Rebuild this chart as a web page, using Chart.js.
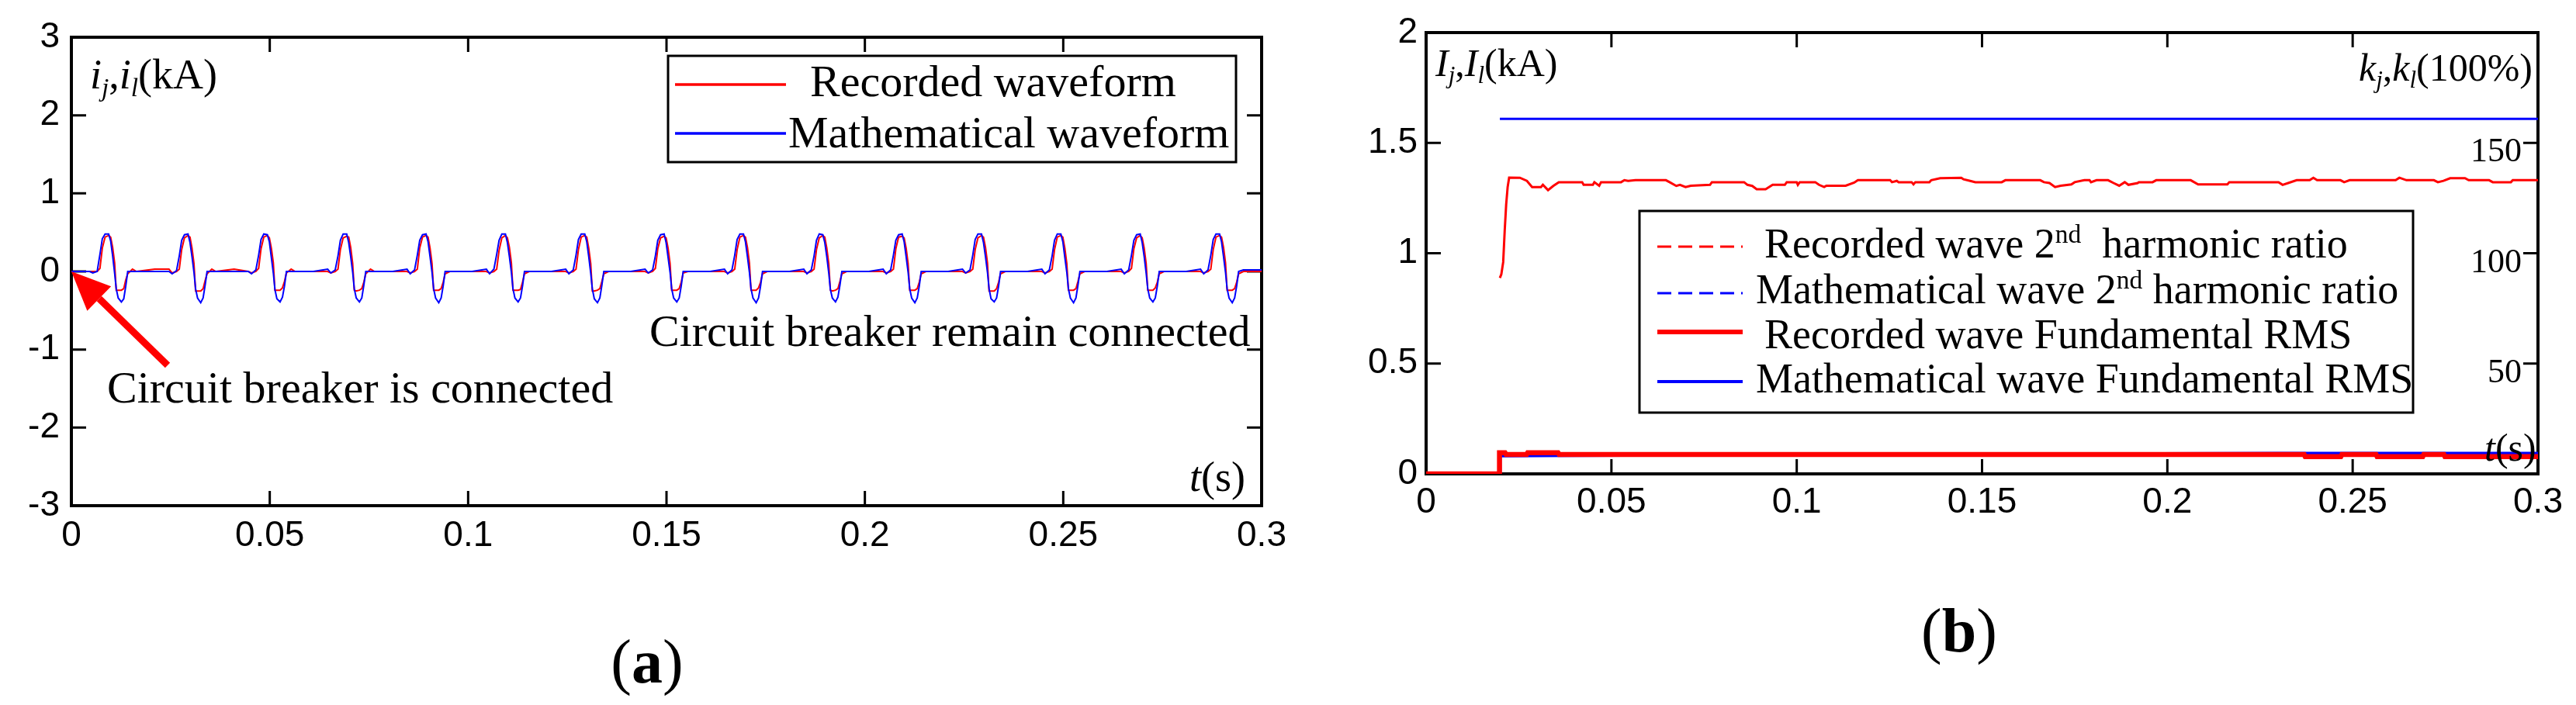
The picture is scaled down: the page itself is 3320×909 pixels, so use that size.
<!DOCTYPE html>
<html>
<head>
<meta charset="utf-8">
<script src="https://cdn.jsdelivr.net/npm/chart.js@4.4.1/dist/chart.umd.min.js"></script>
<style>
  html, body { margin: 0; padding: 0; background: #fff; }
  #wrap { position: relative; width: 3320px; height: 909px; overflow: hidden; }
  canvas { position: absolute; top: 0; }
  #chartA { left: 0; width: 1700px; height: 909px; }
  #chartB { left: 1700px; width: 1620px; height: 909px; }
</style>
</head>
<body>
<div id="wrap">
  <canvas id="chartA" width="1700" height="909"></canvas>
  <canvas id="chartB" width="1620" height="909"></canvas>
</div>
<script>
// ---- axis ticks ----
const tickValuesX = [0, 0.05, 0.1, 0.15, 0.2, 0.25, 0.3];
const tickLabelsX = ['0', '0.05', '0.1', '0.15', '0.2', '0.25', '0.3'];
const tickValuesYA = [-3, -2, -1, 0, 1, 2, 3];
const tickLabelsYA = ['-3', '-2', '-1', '0', '1', '2', '3'];
const tickValuesYB = [0, 0.5, 1, 1.5, 2];
const tickLabelsYB = ['0', '0.5', '1', '1.5', '2'];
const tickValuesK = [50, 100, 150];
const tickLabelsK = ['50', '100', '150'];

// ---- panel (a): inrush current, time in ms, current in kA ----
const timeMsA = [
  0, 1.0, 4.6, 5.4, 6.5, 7.2, 7.8, 8.5, 9.4, 9.9, 10.4, 10.9, 11.3, 11.8, 12.6, 13.2, 13.7, 14.2, 15.4, 16.4,
  21.0, 24.6, 25.4, 26.5, 27.2, 27.8, 28.5, 29.4, 29.9, 30.4, 30.9, 31.3, 31.8, 32.6, 33.2, 33.7, 34.2, 35.4, 36.4,
  41.0, 44.6, 45.4, 46.5, 47.2, 47.8, 48.5, 49.4, 49.9, 50.4, 50.9, 51.3, 51.8, 52.6, 53.2, 53.7, 54.2, 55.4, 56.4,
  61.0, 64.6, 65.4, 66.5, 67.2, 67.8, 68.5, 69.4, 69.9, 70.4, 70.9, 71.3, 71.8, 72.6, 73.2, 73.7, 74.2, 75.4, 76.4,
  81.0, 84.6, 85.4, 86.5, 87.2, 87.8, 88.5, 89.4, 89.9, 90.4, 90.9, 91.3, 91.8, 92.6, 93.2, 93.7, 94.2, 95.4, 96.4,
  101.0, 104.6, 105.4, 106.5, 107.2, 107.8, 108.5, 109.4, 109.9, 110.4, 110.9, 111.3, 111.8, 112.6, 113.2, 113.7, 114.2, 115.4, 116.4,
  121.0, 124.6, 125.4, 126.5, 127.2, 127.8, 128.5, 129.4, 129.9, 130.4, 130.9, 131.3, 131.8, 132.6, 133.2, 133.7, 134.2, 135.4, 136.4,
  141.0, 144.6, 145.4, 146.5, 147.2, 147.8, 148.5, 149.4, 149.9, 150.4, 150.9, 151.3, 151.8, 152.6, 153.2, 153.7, 154.2, 155.4, 156.4,
  161.0, 164.6, 165.4, 166.5, 167.2, 167.8, 168.5, 169.4, 169.9, 170.4, 170.9, 171.3, 171.8, 172.6, 173.2, 173.7, 174.2, 175.4, 176.4,
  181.0, 184.6, 185.4, 186.5, 187.2, 187.8, 188.5, 189.4, 189.9, 190.4, 190.9, 191.3, 191.8, 192.6, 193.2, 193.7, 194.2, 195.4, 196.4,
  201.0, 204.6, 205.4, 206.5, 207.2, 207.8, 208.5, 209.4, 209.9, 210.4, 210.9, 211.3, 211.8, 212.6, 213.2, 213.7, 214.2, 215.4, 216.4,
  221.0, 224.6, 225.4, 226.5, 227.2, 227.8, 228.5, 229.4, 229.9, 230.4, 230.9, 231.3, 231.8, 232.6, 233.2, 233.7, 234.2, 235.4, 236.4,
  241.0, 244.6, 245.4, 246.5, 247.2, 247.8, 248.5, 249.4, 249.9, 250.4, 250.9, 251.3, 251.8, 252.6, 253.2, 253.7, 254.2, 255.4, 256.4,
  261.0, 264.6, 265.4, 266.5, 267.2, 267.8, 268.5, 269.4, 269.9, 270.4, 270.9, 271.3, 271.8, 272.6, 273.2, 273.7, 274.2, 275.4, 276.4,
  281.0, 284.6, 285.4, 286.5, 287.2, 287.8, 288.5, 289.4, 289.9, 290.4, 290.9, 291.3, 291.8, 292.6, 293.2, 293.7, 294.2, 295.4, 296.4, 300.0
];
const recordedA = [
  0, 0, 0, 0, 0, 0.04, 0.30, 0.44, 0.46, 0.44, 0.31, 0.11, -0.24, -0.24, -0.24, -0.22, -0.11, -0.03, 0.03, 0,
  0.03, 0.03, -0.02, 0, 0.03, 0.28, 0.43, 0.46, 0.44, 0.30, 0.10, -0.25, -0.25, -0.25, -0.22, -0.12, -0.03, 0.03, 0,
  0.03, 0, -0.02, 0, 0.04, 0.29, 0.44, 0.46, 0.43, 0.30, 0.11, -0.24, -0.24, -0.24, -0.21, -0.13, -0.02, 0.03, 0,
  0, 0, -0.02, 0, 0.03, 0.28, 0.43, 0.45, 0.44, 0.31, 0.10, -0.24, -0.25, -0.24, -0.22, -0.14, -0.03, 0.03, 0,
  0, 0, -0.02, 0, 0.03, 0.30, 0.44, 0.46, 0.44, 0.30, 0.10, -0.24, -0.24, -0.24, -0.22, -0.14, -0.03, 0, 0,
  0, 0, -0.02, 0, 0.03, 0.27, 0.43, 0.46, 0.43, 0.31, 0.11, -0.24, -0.24, -0.24, -0.23, -0.14, -0.03, 0, 0,
  0, 0, -0.02, 0, 0.03, 0.28, 0.44, 0.46, 0.44, 0.30, 0.10, -0.25, -0.25, -0.24, -0.22, -0.13, -0.03, 0, 0,
  0, 0, -0.02, 0, 0.04, 0.29, 0.43, 0.45, 0.43, 0.30, 0.10, -0.24, -0.24, -0.24, -0.22, -0.14, -0.02, 0, 0,
  0, 0, -0.02, 0, 0.03, 0.28, 0.44, 0.46, 0.44, 0.31, 0.11, -0.24, -0.24, -0.24, -0.21, -0.14, -0.03, 0, 0,
  0, 0, -0.02, 0, 0.03, 0.28, 0.43, 0.46, 0.44, 0.30, 0.10, -0.24, -0.25, -0.24, -0.22, -0.13, -0.03, 0, 0,
  0, 0, -0.02, 0, 0.03, 0.29, 0.44, 0.45, 0.43, 0.30, 0.10, -0.24, -0.24, -0.24, -0.22, -0.14, -0.03, 0, 0,
  0, 0, -0.02, 0, 0.03, 0.28, 0.43, 0.46, 0.44, 0.31, 0.11, -0.25, -0.25, -0.25, -0.22, -0.14, -0.03, 0, 0,
  0, 0, -0.02, 0, 0.03, 0.28, 0.44, 0.46, 0.44, 0.30, 0.10, -0.24, -0.24, -0.24, -0.22, -0.13, -0.03, 0, 0,
  0, 0, -0.02, 0, 0.04, 0.29, 0.43, 0.46, 0.43, 0.30, 0.10, -0.24, -0.24, -0.24, -0.21, -0.14, -0.03, 0, 0,
  0, 0, -0.02, 0, 0.03, 0.28, 0.44, 0.46, 0.44, 0.31, 0.11, -0.24, -0.24, -0.24, -0.22, -0.14, -0.03, 0, 0, 0
];
const mathA = [
  0, 0, 0, -0.02, 0, 0.22, 0.42, 0.48, 0.48, 0.39, 0.20, -0.02, -0.22, -0.34, -0.39, -0.35, -0.19, 0, 0, 0,
  0, 0, -0.03, 0.01, 0.20, 0.40, 0.47, 0.48, 0.37, 0.19, -0.01, -0.22, -0.34, -0.40, -0.34, -0.18, 0, 0, 0,
  0, 0, -0.03, 0.02, 0.21, 0.41, 0.48, 0.47, 0.38, 0.18, -0.02, -0.23, -0.35, -0.39, -0.33, -0.19, 0, 0, 0,
  0, 0.03, -0.02, 0.02, 0.20, 0.40, 0.48, 0.48, 0.37, 0.19, -0.01, -0.22, -0.34, -0.39, -0.34, -0.18, 0, 0, 0,
  0, 0.03, -0.03, 0.02, 0.21, 0.40, 0.47, 0.48, 0.38, 0.19, -0.01, -0.22, -0.34, -0.40, -0.34, -0.19, 0, 0, 0,
  0, 0.03, -0.03, 0.03, 0.22, 0.40, 0.48, 0.48, 0.37, 0.19, -0.01, -0.22, -0.34, -0.39, -0.34, -0.19, 0, 0, 0,
  0, 0.03, -0.03, 0.02, 0.21, 0.41, 0.48, 0.48, 0.38, 0.19, -0.02, -0.22, -0.35, -0.40, -0.34, -0.18, 0, 0, 0,
  0, 0.03, -0.02, 0.02, 0.20, 0.40, 0.47, 0.48, 0.37, 0.18, -0.01, -0.22, -0.34, -0.39, -0.34, -0.19, 0, 0, 0,
  0, 0.03, -0.03, 0.02, 0.21, 0.41, 0.48, 0.48, 0.38, 0.19, -0.01, -0.22, -0.34, -0.40, -0.34, -0.19, 0, 0, 0,
  0, 0.03, -0.03, 0.02, 0.20, 0.40, 0.48, 0.47, 0.37, 0.19, -0.02, -0.23, -0.34, -0.39, -0.33, -0.18, 0, 0, 0,
  0, 0.03, -0.03, 0.02, 0.21, 0.40, 0.47, 0.48, 0.38, 0.19, -0.01, -0.22, -0.34, -0.40, -0.34, -0.19, 0, 0, 0,
  0, 0.03, -0.02, 0.02, 0.21, 0.41, 0.48, 0.48, 0.37, 0.19, -0.01, -0.22, -0.35, -0.39, -0.34, -0.19, 0, 0, 0,
  0, 0.03, -0.03, 0.02, 0.20, 0.40, 0.48, 0.48, 0.38, 0.18, -0.01, -0.22, -0.34, -0.40, -0.34, -0.18, 0, 0, 0,
  0, 0.03, -0.03, 0.02, 0.21, 0.40, 0.47, 0.48, 0.37, 0.19, -0.02, -0.22, -0.34, -0.39, -0.34, -0.19, 0, 0, 0,
  0, 0.03, -0.03, 0.02, 0.21, 0.41, 0.48, 0.48, 0.38, 0.19, -0.01, -0.22, -0.34, -0.40, -0.34, -0.19, 0, 0.02, 0.02, 0.02
];

// ---- panel (b): 2nd harmonic ratio (%) and fundamental RMS (kA) ----
const ratioTime = [
  0.0199, 0.0203, 0.0208, 0.0212, 0.0216, 0.0220, 0.0224, 0.0253, 0.0272, 0.0286, 0.0310, 0.0315, 0.0329, 0.0343,
  0.0358, 0.0421, 0.0425, 0.0450, 0.0454, 0.0467, 0.0472, 0.0526, 0.0535, 0.0545, 0.0565, 0.0647, 0.0657, 0.0675,
  0.0685, 0.0700, 0.0714, 0.0766, 0.0771, 0.0858, 0.0867, 0.0880, 0.0892, 0.0916, 0.0935, 0.0968, 0.0973, 0.1000,
  0.1003, 0.1008, 0.1050, 0.1060, 0.1074, 0.1080, 0.1132, 0.1155, 0.1165, 0.1252, 0.1257, 0.1270, 0.1275, 0.1310,
  0.1315, 0.1320, 0.1358, 0.1363, 0.1387, 0.1444, 0.1450, 0.1468, 0.1482, 0.1553, 0.1563, 0.1657, 0.1667, 0.1682,
  0.1697, 0.1712, 0.1741, 0.1750, 0.1776, 0.1790, 0.1794, 0.1809, 0.1840, 0.1855, 0.1870, 0.1885, 0.1895, 0.1920,
  0.1923, 0.1960, 0.1970, 0.2063, 0.2083, 0.2162, 0.2167, 0.2300, 0.2311, 0.2326, 0.2349, 0.2384, 0.2394, 0.2404,
  0.2467, 0.2477, 0.2492, 0.2616, 0.2626, 0.2645, 0.2719, 0.2730, 0.2745, 0.2763, 0.2803, 0.2813, 0.2868, 0.2878,
  0.2927, 0.2932, 0.3000
];
const ratioRecorded = [
  88.8, 90.5, 96.0, 110.0, 122.0, 130.0, 134.3, 134.2, 132.8, 130.0, 130.0, 131.0, 128.6, 130.5,
  132.2, 132.2, 131.0, 131.0, 132.2, 130.6, 132.2, 132.2, 133.1, 132.8, 133.1, 133.1, 132.2, 130.5,
  131.0, 130.0, 130.6, 131.0, 132.2, 132.2, 131.0, 130.5, 129.0, 129.0, 131.0, 131.0, 132.2, 132.2,
  131.0, 132.2, 132.2, 131.0, 130.0, 130.6, 130.6, 132.0, 133.1, 133.1, 132.2, 132.8, 132.2, 132.2,
  131.2, 132.2, 132.2, 133.1, 134.0, 134.2, 133.5, 132.8, 132.2, 132.2, 133.1, 133.1, 132.2, 131.8,
  130.0, 130.6, 131.2, 132.2, 133.1, 133.1, 132.2, 133.1, 133.1, 131.8, 130.6, 132.2, 131.0, 131.8,
  132.2, 132.2, 133.1, 133.1, 131.2, 131.2, 132.2, 132.2, 131.0, 131.8, 133.1, 133.1, 134.2, 133.1,
  133.1, 132.2, 133.1, 133.1, 134.2, 133.1, 133.1, 132.2, 132.8, 134.0, 134.0, 133.1, 133.1, 132.2,
  132.2, 133.1, 133.1
];
const ratioMathTime = [0.0199, 0.3];
const ratioMath = [160.9, 160.9];
const rmsRecTime = [0, 0.0197, 0.0198, 0.0213, 0.0216, 0.0271, 0.0274, 0.0356, 0.0359, 0.2369,
  0.2372, 0.2468, 0.2471, 0.2563, 0.2566, 0.2689, 0.2692, 0.2746, 0.2749, 0.3];
const rmsRecorded = [0, 0, 0.096, 0.096, 0.088, 0.088, 0.096, 0.096, 0.088, 0.088,
  0.078, 0.078, 0.088, 0.088, 0.078, 0.078, 0.088, 0.088, 0.078, 0.078];
const rmsMathTime = [0, 0.0199, 0.0200, 0.0400, 0.1500, 0.2300, 0.3000];
const rmsMath = [0, 0, 0.081, 0.083, 0.090, 0.094, 0.094];

const RED = '#ff0000';
const BLUE = '#0000ff';
const SANS = "'Liberation Sans', Arial, sans-serif";
const SERIF = "'Liberation Serif', 'Times New Roman', serif";
const TICK = 19;

const pts = (xs, ys, k = 1) => xs.map((x, i) => ({ x: x * k, y: ys[i] }));

// text with italic / bold / sub / superscript pieces: [text, flags]
function drawRich(ctx, x, y, parts, size, align) {
  const items = parts.map(([t, f = '']) => {
    const small = f.includes('s') || f.includes('u');
    const s = small ? size * 0.62 : size;
    const font = (f.includes('i') ? 'italic ' : '') + (f.includes('b') ? 'bold ' : '') + s + 'px ' + SERIF;
    ctx.font = font;
    const dy = f.includes('s') ? size * 0.18 : (f.includes('u') ? -size * 0.36 : 0);
    return { t, font, dy, w: ctx.measureText(t).width };
  });
  const total = items.reduce((a, it) => a + it.w, 0);
  let cx = align === 'right' ? x - total : (align === 'center' ? x - total / 2 : x);
  ctx.textAlign = 'left';
  ctx.textBaseline = 'alphabetic';
  items.forEach(it => {
    ctx.font = it.font;
    ctx.fillText(it.t, cx, y + it.dy);
    cx += it.w;
  });
}

function seg(ctx, x1, y1, x2, y2) {
  ctx.moveTo(x1, y1);
  ctx.lineTo(x2, y2);
}

// matlab style box with inward ticks
function framePlugin(rightScale, rightTicks, leftTicks) {
  return {
    id: 'frame',
    beforeDatasetsDraw(chart) {
      const { ctx, chartArea: a, scales } = chart;
      ctx.save();
      ctx.strokeStyle = '#000';
      ctx.lineWidth = 3;
      ctx.beginPath();
      tickValuesX.forEach(v => {
        const p = scales.x.getPixelForValue(v);
        seg(ctx, p, a.bottom, p, a.bottom - TICK);
        seg(ctx, p, a.top, p, a.top + TICK);
      });
      leftTicks.forEach(v => {
        const p = scales.y.getPixelForValue(v);
        seg(ctx, a.left, p, a.left + TICK, p);
      });
      rightTicks.forEach(v => {
        const p = scales[rightScale].getPixelForValue(v);
        seg(ctx, a.right, p, a.right - TICK, p);
      });
      ctx.stroke();
      ctx.lineWidth = 4;
      ctx.strokeRect(a.left, a.top, a.right - a.left, a.bottom - a.top);
      ctx.restore();
    }
  };
}

function xAxis(height, pad) {
  return {
    type: 'linear', min: 0, max: 0.3,
    afterBuildTicks: s => { s.ticks = tickValuesX.map(v => ({ value: v })); },
    afterFit: s => { s.height = height; },
    grid: { display: false, drawTicks: false },
    border: { display: false },
    ticks: {
      autoSkip: false, maxRotation: 0, minRotation: 0, padding: pad, color: '#000',
      font: { family: SANS, size: 46 },
      callback: (v, i) => tickLabelsX[i]
    }
  };
}

function yAxis(min, max, vals, labels, width, pad) {
  return {
    type: 'linear', min: min, max: max,
    afterBuildTicks: s => { s.ticks = vals.map(v => ({ value: v })); },
    afterFit: s => { s.width = width; },
    grid: { display: false, drawTicks: false },
    border: { display: false },
    ticks: {
      autoSkip: false, padding: pad, color: '#000',
      font: { family: SANS, size: 46 },
      callback: (v, i) => labels[i]
    }
  };
}

const baseOptions = {
  responsive: false,
  animation: false,
  devicePixelRatio: 1,
  events: [],
  plugins: { legend: { display: false }, tooltip: { enabled: false } },
  elements: { point: { radius: 0 }, line: { tension: 0 } }
};

// ---------- panel (a) ----------
const annotateA = {
  id: 'annotateA',
  afterDraw(chart) {
    const { ctx, scales } = chart;
    ctx.save();
    ctx.fillStyle = '#000';
    drawRich(ctx, 116, 114, [['i', 'i'], ['j', 'is'], [','], ['i', 'i'], ['l', 'is'], ['(kA)']], 54);
    drawRich(ctx, 1533, 633, [['t', 'i'], ['(s)']], 54);
    drawRich(ctx, 837, 446, [['Circuit breaker remain connected']], 58);
    drawRich(ctx, 138, 519, [['Circuit breaker is connected']], 58);
    drawRich(ctx, 834, 880, [['('], ['a', 'b'], [')']], 80, 'center');

    // legend
    ctx.fillStyle = '#fff';
    ctx.fillRect(861, 72, 732, 137);
    ctx.strokeStyle = '#000';
    ctx.lineWidth = 3;
    ctx.strokeRect(861, 72, 732, 137);
    ctx.lineWidth = 3.5;
    ctx.strokeStyle = RED;
    ctx.beginPath(); seg(ctx, 870, 109, 1013, 109); ctx.stroke();
    ctx.strokeStyle = BLUE;
    ctx.beginPath(); seg(ctx, 870, 172, 1013, 172); ctx.stroke();
    ctx.fillStyle = '#000';
    drawRich(ctx, 1044, 124, [['Recorded waveform']], 58);
    drawRich(ctx, 1016, 190, [['Mathematical waveform']], 58);

    // arrow pointing to the switching instant
    const tipX = scales.x.getPixelForValue(0);
    const tipY = scales.y.getPixelForValue(0);
    const tailX = tipX + 124, tailY = tipY + 121;
    const len = Math.hypot(tailX - tipX, tailY - tipY);
    const ux = (tailX - tipX) / len, uy = (tailY - tipY) / len;
    const bx = tipX + ux * 50, by = tipY + uy * 50;
    ctx.strokeStyle = RED;
    ctx.fillStyle = RED;
    ctx.lineWidth = 9;
    ctx.beginPath(); seg(ctx, tailX, tailY, bx, by); ctx.stroke();
    ctx.beginPath();
    ctx.moveTo(tipX, tipY);
    ctx.lineTo(bx - uy * 22, by + ux * 22);
    ctx.lineTo(bx + uy * 22, by - ux * 22);
    ctx.closePath();
    ctx.fill();
    ctx.restore();
  }
};

new Chart(document.getElementById('chartA'), {
  type: 'line',
  data: {
    datasets: [
      { label: 'Recorded waveform', data: pts(timeMsA, recordedA, 0.001), borderColor: RED, borderWidth: 2, order: 2 },
      { label: 'Mathematical waveform', data: pts(timeMsA, mathA, 0.001), borderColor: BLUE, borderWidth: 2, order: 1 }
    ]
  },
  options: Object.assign({}, baseOptions, {
    layout: { padding: { left: 0, top: 48, right: 74, bottom: 0 } },
    scales: {
      x: xAxis(909 - 652, 12),
      y: yAxis(-3, 3, tickValuesYA, tickLabelsYA, 92, 15)
    }
  }),
  plugins: [framePlugin('y', tickValuesYA, tickValuesYA), annotateA]
});

// ---------- panel (b) ----------
const annotateB = {
  id: 'annotateB',
  afterDraw(chart) {
    const { ctx, scales } = chart;
    ctx.save();
    ctx.fillStyle = '#000';
    drawRich(ctx, 150, 98, [['I', 'i'], ['j', 'is'], [','], ['I', 'i'], ['l', 'is'], ['(kA)']], 50);
    drawRich(ctx, 1564, 104, [['k', 'i'], ['j', 'is'], [','], ['k', 'i'], ['l', 'is'], ['(100%)']], 50, 'right');
    drawRich(ctx, 1502, 594, [['t', 'i'], ['(s)']], 50);
    drawRich(ctx, 825, 840, [['('], ['b', 'b'], [')']], 80, 'center');

    // right axis labels, drawn inside the box
    tickValuesK.forEach((v, i) => {
      drawRich(ctx, chart.chartArea.right - 21, scales.y2.getPixelForValue(v) + 24, [[tickLabelsK[i]]], 44, 'right');
    });

    // legend
    ctx.fillStyle = '#fff';
    ctx.fillRect(413, 272, 997, 260);
    ctx.strokeStyle = '#000';
    ctx.lineWidth = 3;
    ctx.strokeRect(413, 272, 997, 260);
    const samples = [
      { y: 318, c: RED, w: 3, dash: [18, 9] },
      { y: 378, c: BLUE, w: 3, dash: [18, 9] },
      { y: 428, c: RED, w: 6, dash: [] },
      { y: 492, c: BLUE, w: 4, dash: [] }
    ];
    samples.forEach(s => {
      ctx.strokeStyle = s.c;
      ctx.lineWidth = s.w;
      ctx.setLineDash(s.dash);
      ctx.beginPath(); seg(ctx, 436, s.y, 546, s.y); ctx.stroke();
    });
    ctx.setLineDash([]);
    ctx.fillStyle = '#000';
    drawRich(ctx, 574, 332, [['Recorded wave 2'], ['nd', 'u'], ['  harmonic ratio']], 54);
    drawRich(ctx, 563, 391, [['Mathematical wave 2'], ['nd', 'u'], [' harmonic ratio']], 54);
    drawRich(ctx, 574, 449, [['Recorded wave Fundamental RMS']], 54);
    drawRich(ctx, 563, 506, [['Mathematical wave Fundamental RMS']], 54);
    ctx.restore();
  }
};

new Chart(document.getElementById('chartB'), {
  type: 'line',
  data: {
    datasets: [
      { label: 'Recorded wave 2nd harmonic ratio', data: pts(ratioTime, ratioRecorded), yAxisID: 'y2',
        borderColor: RED, borderWidth: 3, order: 3 },
      { label: 'Mathematical wave 2nd harmonic ratio', data: pts(ratioMathTime, ratioMath), yAxisID: 'y2',
        borderColor: BLUE, borderWidth: 3, order: 4 },
      { label: 'Recorded wave Fundamental RMS', data: pts(rmsRecTime, rmsRecorded), yAxisID: 'y',
        borderColor: RED, borderWidth: 6.5, order: 1 },
      { label: 'Mathematical wave Fundamental RMS', data: pts(rmsMathTime, rmsMath), yAxisID: 'y',
        borderColor: BLUE, borderWidth: 3.5, order: 2 }
    ]
  },
  options: Object.assign({}, baseOptions, {
    layout: { padding: { left: 0, top: 42, right: 49, bottom: 0 } },
    scales: {
      x: xAxis(909 - 611, 10),
      y: yAxis(0, 2, tickValuesYB, tickLabelsYB, 138, 11),
      y2: { type: 'linear', position: 'right', min: 0, max: 200, display: false }
    }
  }),
  plugins: [framePlugin('y2', tickValuesK, tickValuesYB), annotateB]
});
</script>
</body>
</html>
